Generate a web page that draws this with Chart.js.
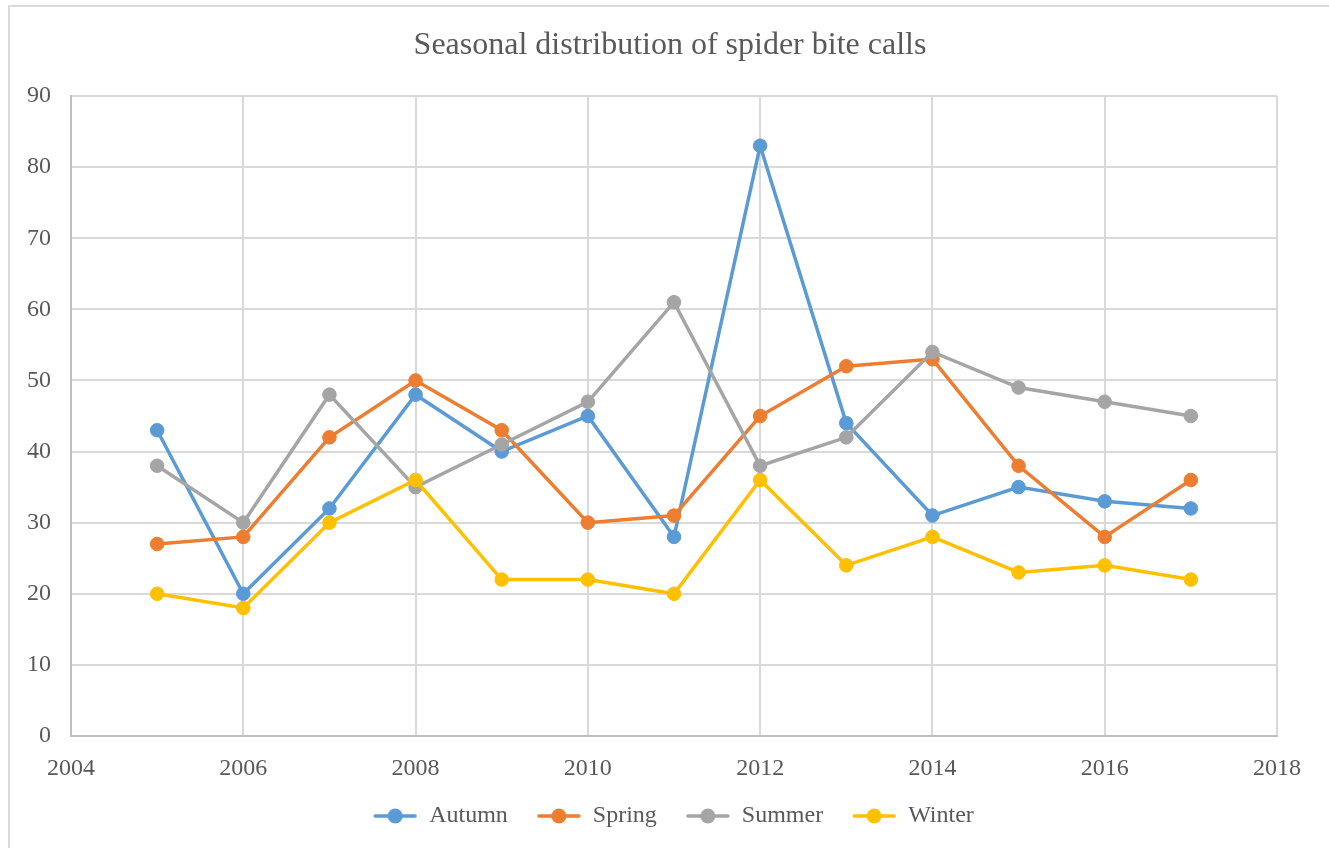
<!DOCTYPE html>
<html>
<head>
<meta charset="utf-8">
<title>Seasonal distribution of spider bite calls</title>
<script src="https://cdn.jsdelivr.net/npm/chart.js@4.4.1/dist/chart.umd.min.js"></script>
<style>
  html, body { margin: 0; padding: 0; background: #ffffff; overflow: hidden; }
  #frame { position: absolute; left: 8px; top: 5px; width: 1360px; height: 900px;
           border: 2px solid #dadada; box-sizing: border-box; }
  #wrap { position: absolute; left: 0; top: 0; width: 1340px; height: 848px; }
</style>
</head>
<body>
<div id="frame"></div>
<div id="wrap"><canvas id="chart" width="1340" height="848"></canvas></div>
<script>
// Calls per season, by year
const years  = [2005, 2006, 2007, 2008, 2009, 2010, 2011, 2012, 2013, 2014, 2015, 2016, 2017];
const autumn = [43, 20, 32, 48, 40, 45, 28, 83, 44, 31, 35, 33, 32];
const spring = [27, 28, 42, 50, 43, 30, 31, 45, 52, 53, 38, 28, 36];
const summer = [38, 30, 48, 35, 41, 47, 61, 38, 42, 54, 49, 47, 45];
const winter = [20, 18, 30, 36, 22, 22, 20, 36, 24, 28, 23, 24, 22];

const seriesNames  = ['Autumn', 'Spring', 'Summer', 'Winter'];
const seriesColors = ['#5B9BD5', '#ED7D31', '#A5A5A5', '#FFC000'];

// Axis tick positions
const xTicks = [2004, 2006, 2008, 2010, 2012, 2014, 2016, 2018];
const yTicks = [0, 10, 20, 30, 40, 50, 60, 70, 80, 90];

const TEXT = '#595959';
const FONT = 'Liberation Serif';

function toPoints(vals) {
  return years.map((yr, i) => ({ x: yr, y: vals[i] }));
}

// Legend swatch: blank lead-in, then a short line with a round marker
const SWATCH_LEAD = 19;
const SWATCH_W = SWATCH_LEAD + 44;
function swatch(color) {
  const c = document.createElement('canvas');
  c.width = SWATCH_W; c.height = 18;
  const g = c.getContext('2d');
  const x0 = SWATCH_LEAD;
  g.strokeStyle = color; g.lineWidth = 3.5; g.lineCap = 'round';
  g.beginPath(); g.moveTo(x0 + 2, 9); g.lineTo(x0 + 42, 9); g.stroke();
  g.fillStyle = color;
  g.beginPath(); g.arc(x0 + 22, 9, 7.5, 0, Math.PI * 2); g.fill();
  return c;
}

// Nudge the legend row a little to the left of the title's centre line
const legendNudge = {
  id: 'legendNudge',
  afterLayout(chart) {
    const lg = chart.legend;
    if (lg) { lg.left -= 6; lg.right -= 6; }
  }
};

const allSeries = [autumn, spring, summer, winter];
const datasets = allSeries.map((vals, i) => ({
  label: seriesNames[i],
  data: toPoints(vals),
  showLine: true,
  borderColor: seriesColors[i],
  backgroundColor: seriesColors[i],
  borderWidth: 3.5,
  pointRadius: 6.8,
  pointBorderWidth: 1,
  pointHoverRadius: 6.8,
  tension: 0,
  order: allSeries.length - 1 - i
}));

new Chart(document.getElementById('chart'), {
  type: 'scatter',
  data: { datasets },
  plugins: [legendNudge],
  options: {
    responsive: false,
    animation: false,
    layout: { padding: { left: 0, right: 0, top: 0, bottom: 10 } },
    plugins: {
      tooltip: { enabled: false },
      title: {
        display: true,
        text: 'Seasonal distribution of spider bite calls',
        color: TEXT,
        font: { family: FONT, size: 32, weight: 'normal' },
        padding: { top: 26, bottom: 31.6 }
      },
      legend: {
        display: true,
        position: 'bottom',
        labels: {
          usePointStyle: true,
          pointStyleWidth: SWATCH_W,
          padding: 10,
          color: TEXT,
          font: { family: FONT, size: 24 },
          generateLabels: chart => chart.data.datasets.map((ds, i) => ({
            text: ds.label,
            pointStyle: swatch(ds.borderColor),
            fillStyle: ds.borderColor,
            strokeStyle: ds.borderColor,
            fontColor: TEXT,
            lineWidth: 0,
            hidden: false,
            datasetIndex: i
          }))
        }
      }
    },
    scales: {
      x: {
        type: 'linear',
        min: xTicks[0],
        max: xTicks[xTicks.length - 1],
        afterBuildTicks: s => { s.ticks = xTicks.map(v => ({ value: v })); },
        afterFit: s => { s.height = 58; },
        ticks: {
          color: TEXT,
          font: { family: FONT, size: 24 },
          padding: 18,
          maxRotation: 0,
          callback: v => String(v)
        },
        grid: { color: '#d9d9d9', lineWidth: 2, drawTicks: false },
        border: { color: '#bfbfbf', width: 2 }
      },
      y: {
        min: yTicks[0],
        max: yTicks[yTicks.length - 1],
        afterBuildTicks: s => { s.ticks = yTicks.map(v => ({ value: v })); },
        afterFit: s => { s.width = 71; },
        ticks: {
          color: TEXT,
          font: { family: FONT, size: 24 },
          padding: 20,
          callback: v => String(v)
        },
        grid: { color: '#d9d9d9', lineWidth: 2, drawTicks: false },
        border: { color: '#bfbfbf', width: 2 }
      },
      // empty right-hand margin so the plot ends at 2018 while the title stays centred
      yMargin: {
        type: 'linear',
        position: 'right',
        display: true,
        afterFit: s => { s.width = 63; },
        ticks: { display: false },
        grid: { display: false, drawTicks: false },
        border: { display: false }
      }
    }
  }
});
</script>
</body>
</html>
